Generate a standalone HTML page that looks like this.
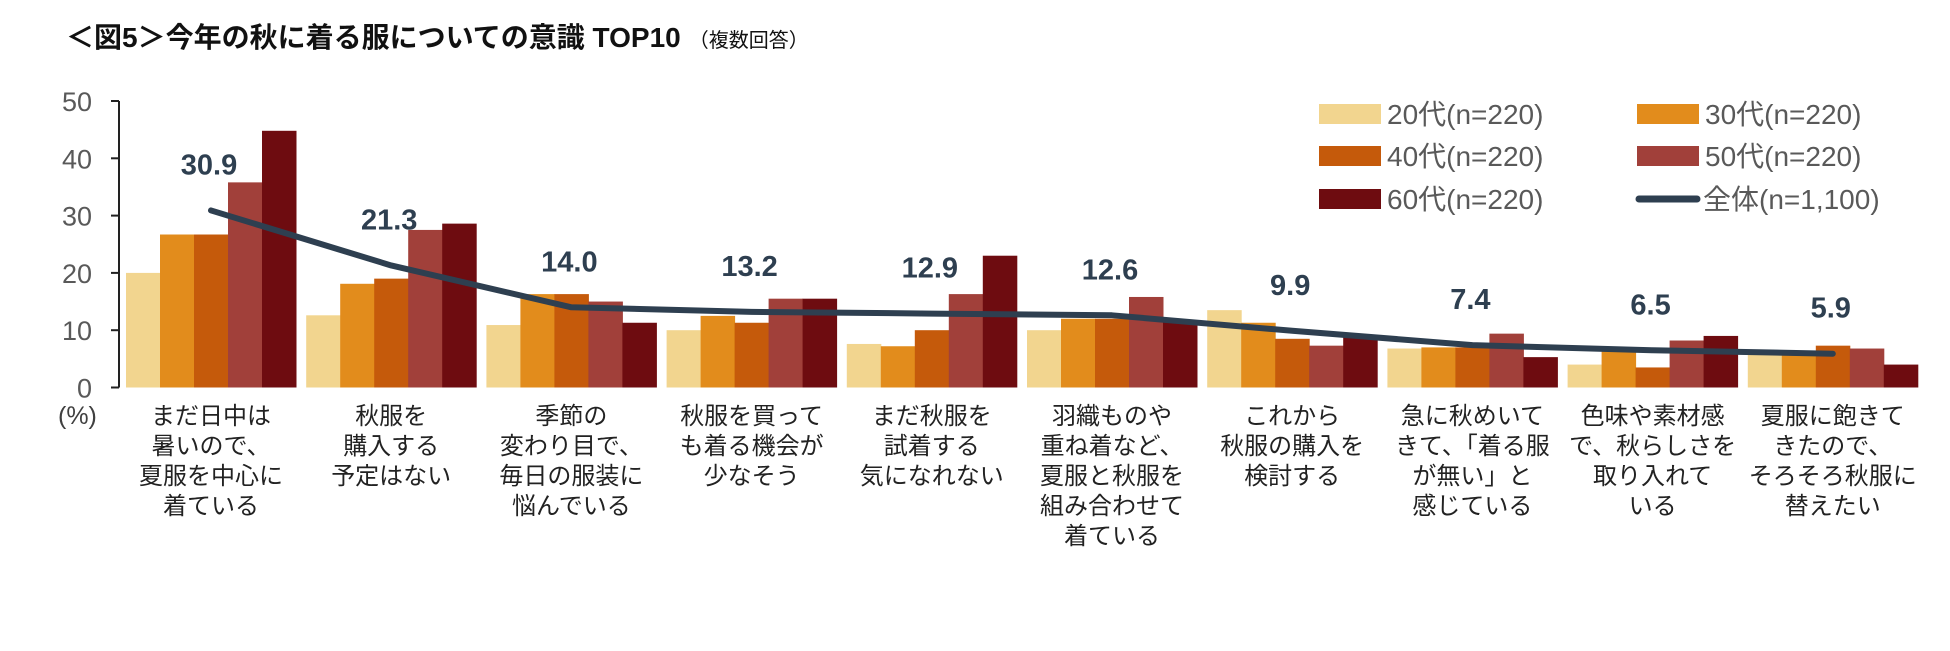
<!DOCTYPE html>
<html><head><meta charset="utf-8">
<style>
body{margin:0;background:#fff;}
svg{display:block;font-family:"Liberation Sans","Noto Sans CJK JP",sans-serif;}
</style></head>
<body>
<svg id="chart" width="1950" height="651" viewBox="0 0 1950 651">
<text x="66" y="47" font-size="28" font-weight="bold" fill="#111">＜図5＞今年の秋に着る服についての意識 TOP10<tspan font-size="20" font-weight="normal" dx="8">（複数回答）</tspan></text>
<g id="axis"></g>
<g id="bars"></g>
<g id="line"></g>
<g id="cats"></g>
<g id="legend"></g>
<text x="58" y="424" font-size="25" fill="#404040">(%)</text>
</svg>
<script>
const categories=[
["まだ日中は","暑いので、","夏服を中心に","着ている"],
["秋服を","購入する","予定はない"],
["季節の","変わり目で、","毎日の服装に","悩んでいる"],
["秋服を買って","も着る機会が","少なそう"],
["まだ秋服を","試着する","気になれない"],
["羽織ものや","重ね着など、","夏服と秋服を","組み合わせて","着ている"],
["これから","秋服の購入を","検討する"],
["急に秋めいて","きて、「着る服","が無い」と","感じている"],
["色味や素材感","で、秋らしさを","取り入れて","いる"],
["夏服に飽きて","きたので、","そろそろ秋服に","替えたい"]];
const s20=[20,12.6,10.9,10,7.6,10,13.5,6.8,4,5.8];
const s30=[26.7,18.1,16.3,12.5,7.2,12,11.3,7,7,5.8];
const s40=[26.7,19,16.3,11.3,10,12,8.5,7,3.5,7.3];
const s50=[35.8,27.5,15,15.5,16.3,15.8,7.3,9.4,8.2,6.8];
const s60=[44.8,28.6,11.3,15.5,23,11.5,9,5.3,9,4];
const total=[30.9,21.3,14.0,13.2,12.9,12.6,9.9,7.4,6.5,5.9];
const yTicks=[0,10,20,30,40,50];
const seriesNames=["20代(n=220)","30代(n=220)","40代(n=220)","50代(n=220)","60代(n=220)"];
const totalName="全体(n=1,100)";

const NS="http://www.w3.org/2000/svg";
const colors=["#f2d58f","#e28c1c","#c55a0b","#a1403a","#6e0c10"];
const x0=119,pitch=180.2,bw=34,y0=387.5,yTop=101;
const y=v=>y0-(v/50)*(y0-yTop);
const cx=i=>x0+7+pitch*i+2.5*bw;
function mk(tag,attrs,parent){const e=document.createElementNS(NS,tag);for(const k in attrs)e.setAttribute(k,attrs[k]);parent.appendChild(e);return e;}
const axis=document.getElementById('axis');
mk('line',{x1:x0,y1:yTop,x2:x0,y2:y0,stroke:'#222','stroke-width':2},axis);
yTicks.forEach(t=>{
 const l=mk('line',{x1:x0-8,y1:y(t),x2:x0,y2:y(t),stroke:'#222','stroke-width':2},axis);
 
 
 const tx=mk('text',{x:x0-27,y:y(t)+10,'font-size':27,fill:'#595959','text-anchor':'end'},axis);
 tx.textContent=t;
 
 
});
const bars=document.getElementById('bars');
const series=[s20,s30,s40,s50,s60];
series.forEach((s,si)=>{
 s.forEach((v,i)=>{
  const bx=cx(i)-2.5*bw+si*bw;
  const r=mk('rect',{x:bx,y:y(v),width:bw+0.5,height:y0-y(v),fill:colors[si]},bars);
  
  
 });
});
const line=document.getElementById('line');
const pts=total.map((v,i)=>cx(i)+','+y(v)).join(' ');
const pl=mk('polyline',{points:pts,fill:'none',stroke:'#2e3f50','stroke-width':6,'stroke-linecap':'round','stroke-linejoin':'round'},line);


total.forEach((v,i)=>{
 const t=mk('text',{x:cx(i)-2,y:y(v)-46+10,'font-size':29,'font-weight':'bold',fill:'#2e3f50','text-anchor':'middle'},line);
 t.textContent=v.toFixed(1);
 
 
});
const cats=document.getElementById('cats');
categories.forEach((lines,i)=>{
 const t=mk('text',{'font-size':24,fill:'#222','text-anchor':'middle'},cats);
 
 
 lines.forEach((ln,j)=>{const ts=mk('tspan',{x:cx(i),y:424+j*30},t);ts.textContent=ln;});
});
const lg=document.getElementById('legend');
const lpos=[[1319,114],[1637,114],[1319,156],[1637,156],[1319,199]];
seriesNames.forEach((n,i)=>{
 const g=mk('g',{},lg);
 
 
 mk('rect',{x:lpos[i][0],y:lpos[i][1]-10,width:62,height:20,fill:colors[i]},g);
 const t=mk('text',{x:lpos[i][0]+68,y:lpos[i][1]+10,'font-size':28,fill:'#595959'},g);t.textContent=n;
});
const g=mk('g',{},lg);


mk('line',{x1:1639,y1:199,x2:1697,y2:199,stroke:'#2e3f50','stroke-width':7,'stroke-linecap':'round'},g);
const tt=mk('text',{x:1703,y:209,'font-size':28,fill:'#595959'},g);tt.textContent=totalName;
</script>
</body></html>
